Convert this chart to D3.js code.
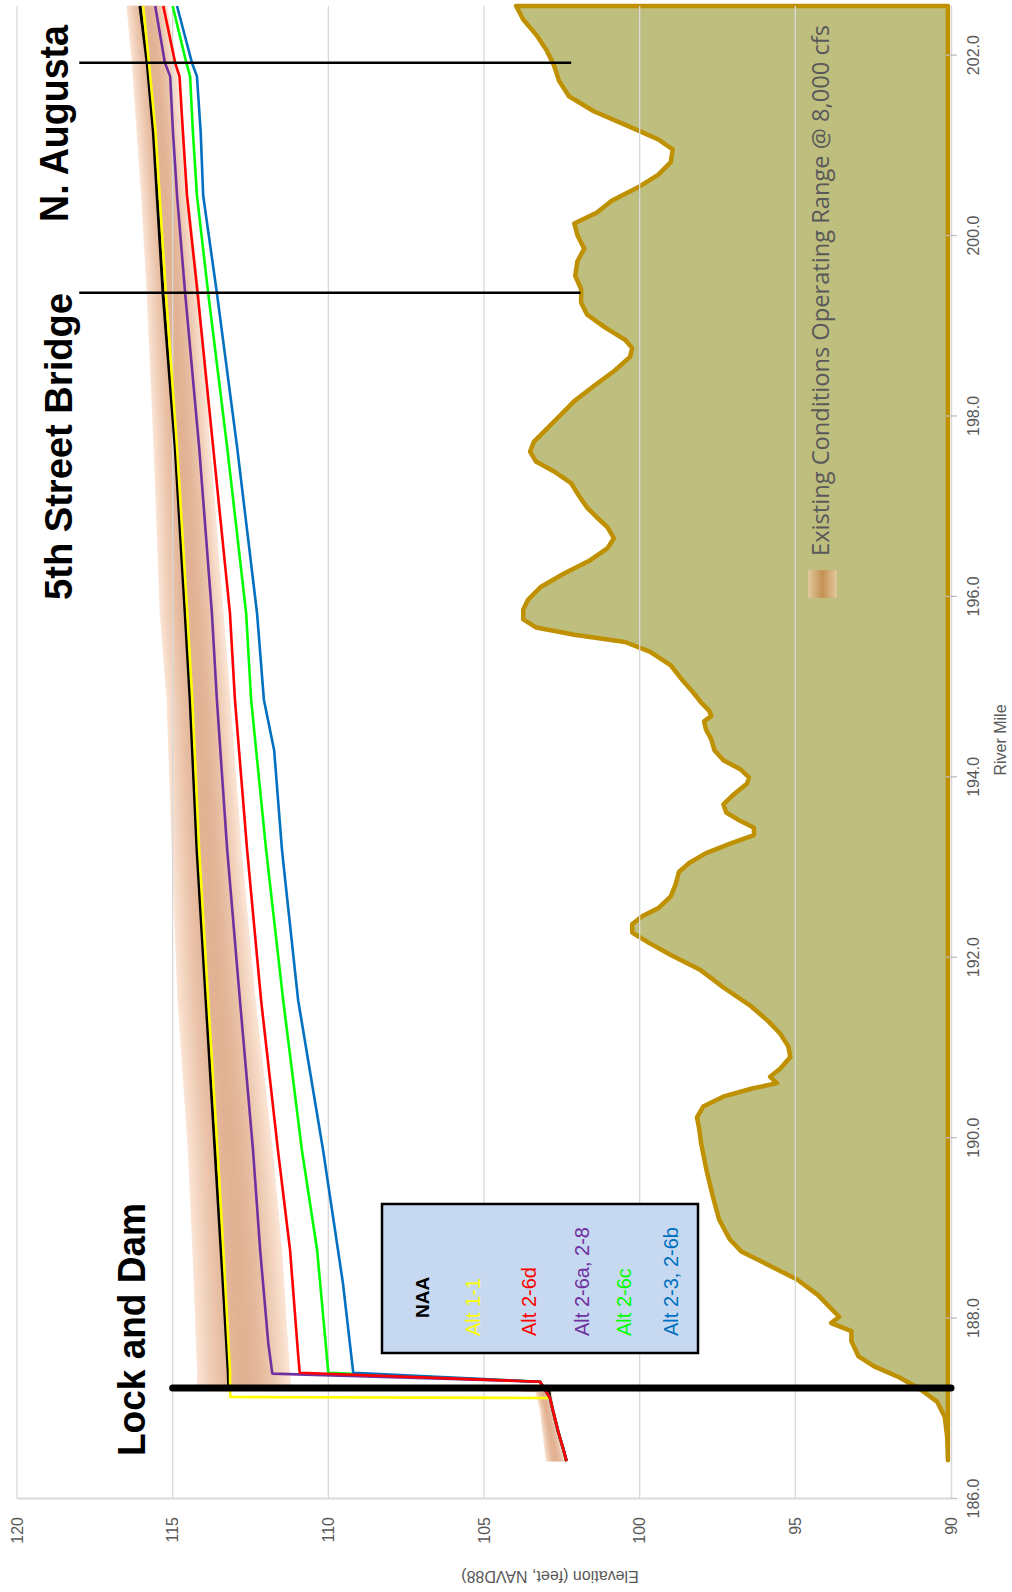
<!DOCTYPE html>
<html>
<head>
<meta charset="utf-8">
<script src="https://cdn.jsdelivr.net/npm/d3@7"></script>
<style>
    body { margin: 0; background: #fff; }
    svg { display: block; }
    text { font-family: "Liberation Sans", Arial, sans-serif; }
</style>
</head>
<body>
<div id="chart"></div>
<script>

// ---- data (river mile, elevation ft NAVD88) ----

const mileTicks = [186, 188, 190, 192, 194, 196, 198, 200, 202];
const elevTicks = [90, 95, 100, 105, 110, 115, 120];

// stretch below the dam, shared by every alternative
const belowDam = [[186.42, 102.35], [186.55, 102.45], [186.75, 102.62], [187.0, 102.8], [187.12, 102.88]];

const naaPts = belowDam.concat([[187.22, 102.93], [187.23, 113.2], [187.43, 113.22], [188.5, 113.4], [189.87, 113.64],
    [191.53, 113.93], [193.2, 114.22], [194.86, 114.44], [195.82, 114.6], [197.66, 114.92], [199.37, 115.31],
    [200.45, 115.5], [201.15, 115.62], [201.92, 115.82], [202.55, 116.05]]);

const alt11Pts = belowDam.concat([[187.13, 113.15], [187.43, 113.16], [188.5, 113.33], [189.87, 113.56],
    [191.53, 113.86], [193.2, 114.15], [194.86, 114.37], [195.82, 114.53], [197.66, 114.86], [199.37, 115.22],
    [200.45, 115.42], [201.15, 115.55], [201.92, 115.76], [202.55, 115.95]]);

const alt26dPts = belowDam.concat([[187.3, 103.2], [187.4, 110.92], [187.6, 110.97], [188.76, 111.23], [189.87, 111.62],
    [191.53, 112.16], [193.2, 112.61], [194.86, 113.0], [195.82, 113.16], [197.66, 113.7], [199.37, 114.2],
    [200.45, 114.54], [201.15, 114.67], [201.77, 114.78], [201.92, 114.92], [202.55, 115.3]]);

const alt26aPts = belowDam.concat([[187.3, 103.2], [187.39, 111.8], [187.73, 111.93], [188.76, 112.19], [189.87, 112.42],
    [191.53, 112.84], [193.2, 113.25], [194.86, 113.58], [195.82, 113.74], [197.66, 114.15], [199.37, 114.6],
    [200.45, 114.86], [201.15, 114.99], [201.77, 115.08], [201.92, 115.25], [202.55, 115.56]]);

const alt26cPts = belowDam.concat([[187.3, 103.2], [187.4, 110.0], [188.76, 110.36], [189.87, 110.85],
    [191.53, 111.45], [193.2, 112.0], [194.86, 112.48], [195.82, 112.64], [197.66, 113.25], [199.37, 113.86],
    [200.45, 114.22], [201.15, 114.35], [201.77, 114.44], [201.92, 114.56], [202.55, 115.0]]);

const alt23Pts = belowDam.concat([[187.3, 103.2], [187.4, 109.2], [188.39, 109.53], [188.76, 109.69], [189.87, 110.17],
    [191.53, 110.97], [192.97, 111.42], [193.2, 111.49], [194.3, 111.74], [194.86, 112.07], [195.82, 112.29],
    [197.66, 112.93], [199.37, 113.58], [200.45, 114.02], [201.15, 114.1], [201.77, 114.22], [201.92, 114.38],
    [202.55, 114.86]]);

const seriesNames = ["NAA", "Alt 1-1", "Alt 2-6d", "Alt 2-6a, 2-8", "Alt 2-6c", "Alt 2-3, 2-6b"];
const seriesColors = ["#000000", "#ffff00", "#ff0000", "#7030a0", "#00ff00", "#0070c0"];
const seriesPts = [naaPts, alt11Pts, alt26dPts, alt26aPts, alt26cPts, alt23Pts];

// existing conditions operating range @ 8,000 cfs
const rangeMiles = [186.42, 187.0, 187.2, 187.24, 187.4, 188.76, 189.87, 191.53, 193.2, 194.86, 195.82, 197.66, 199.37, 200.45, 201.92, 202.55];
const rangeHigh  = [103.0, 103.2, 103.35, 114.2, 114.2, 114.35, 114.5, 114.83, 115.02, 115.18, 115.4, 115.6, 115.82, 116.0, 116.3, 116.47];
const rangeLow   = [102.35, 102.75, 102.85, 111.2, 111.25, 111.5, 111.8, 112.35, 112.8, 113.16, 113.38, 113.8, 114.15, 114.5, 114.9, 115.18];

// river bed profile
const groundBase = 90.1;
const ground = [[186.43, 90.1], [186.68, 90.12], [186.91, 90.2], [187.08, 90.45], [187.22, 91.0], [187.35, 91.67],
    [187.47, 92.47], [187.58, 92.97], [187.75, 93.2], [187.86, 93.2], [187.95, 93.85], [188.02, 93.59], [188.11, 93.85],
    [188.26, 94.27], [188.43, 94.93], [188.6, 95.9], [188.74, 96.72], [188.88, 97.11], [189.1, 97.45], [189.38, 97.67],
    [189.67, 97.87], [189.95, 98.03], [190.11, 98.09], [190.23, 98.16], [190.35, 97.96], [190.46, 97.32], [190.55, 96.39],
    [190.61, 95.59], [190.68, 95.81], [190.77, 95.49], [190.9, 95.16], [191.02, 95.23], [191.16, 95.49], [191.3, 95.88],
    [191.47, 96.45], [191.67, 97.31], [191.86, 98.03], [192.03, 99.0], [192.17, 99.73], [192.28, 100.24], [192.37, 100.24],
    [192.46, 99.92], [192.55, 99.4], [192.68, 99.0], [192.82, 98.84], [192.95, 98.74], [193.05, 98.41], [193.16, 97.87],
    [193.27, 97.05], [193.36, 96.33], [193.44, 96.33], [193.52, 96.79], [193.61, 97.22], [193.7, 97.31], [193.81, 96.98],
    [193.93, 96.55], [194.0, 96.49], [194.09, 96.77], [194.19, 97.31], [194.3, 97.6], [194.42, 97.7], [194.53, 97.87],
    [194.62, 97.93], [194.68, 97.7], [194.74, 97.77], [194.83, 98.03], [194.94, 98.28], [195.07, 98.61], [195.24, 99.0],
    [195.39, 99.66], [195.5, 100.47], [195.58, 102.1], [195.66, 103.32], [195.75, 103.74], [195.86, 103.74], [195.97, 103.58],
    [196.11, 103.18], [196.26, 102.43], [196.4, 101.62], [196.54, 101.03], [196.65, 100.83], [196.77, 101.03], [196.88, 101.37],
    [196.99, 101.69], [197.12, 101.95], [197.26, 102.2], [197.39, 102.75], [197.5, 103.33], [197.61, 103.52], [197.72, 103.4],
    [197.83, 103.08], [198.0, 102.59], [198.17, 102.1], [198.34, 101.46], [198.51, 100.8], [198.66, 100.31], [198.76, 100.24],
    [198.85, 100.47], [198.99, 101.13], [199.13, 101.69], [199.26, 101.88], [199.41, 101.88], [199.56, 102.07], [199.72, 102.0],
    [199.86, 101.78], [200.01, 102.0], [200.14, 102.1], [200.26, 101.37], [200.39, 100.9], [200.54, 100.05], [200.68, 99.4],
    [200.82, 99.0], [200.96, 98.94], [201.07, 99.4], [201.21, 100.31], [201.38, 101.46], [201.55, 102.27], [201.72, 102.59],
    [201.89, 102.75], [202.06, 102.99], [202.23, 103.32], [202.4, 103.74], [202.55, 103.97]];

// landmarks drawn as markers across the river
const siteNames = ["Lock and Dam", "5th Street Bridge", "N. Augusta"];
const siteMiles = [187.23, 199.37, 201.92];
const siteTop = [115, 118, 118];
const siteBottom = [90, 101.9, 102.2];


// ---- drawing ----

const W = 1012, H = 1592;

const svg = d3.select("#chart").append("svg")
    .attr("width", W)
    .attr("height", H);

// chart is built landscape (river mile across), then turned a quarter turn
const g = svg.append("g")
    .attr("transform", `translate(0,${H}) rotate(-90)`);

const x = d3.scaleLinear().domain([186, 202.55]).range([93, 1586]);
const y = d3.scaleLinear().domain([90, 120]).range([951, 17]);

const axisGrey = "#595959";

// river bed
g.append("path")
    .datum(ground)
    .attr("d", d3.area().x(d => x(d[0])).y0(y(groundBase)).y1(d => y(d[1])))
    .attr("fill", "#bebe7f")
    .attr("stroke", "#bf9000")
    .attr("stroke-width", 4.5)
    .attr("stroke-linejoin", "round");

// operating range band, shaded darker toward its middle
const band = rangeMiles.map((m, i) => ({m: m, hi: rangeHigh[i], lo: rangeLow[i]}));
const edgeCol = d3.rgb(248, 207, 178), coreCol = d3.rgb(202, 115, 58);
const nStrips = 32;
const bandG = g.append("g").attr("opacity", 0.55);
d3.range(nStrips).forEach(i => {
    let t0 = i / nStrips, t1 = (i + 1) / nStrips;
    let c = d3.interpolateRgb(edgeCol, coreCol)(Math.sin(Math.PI * (i + 0.5) / nStrips));
    bandG.append("path")
        .datum(band)
        .attr("d", d3.area()
            .x(d => x(d.m))
            .y0(d => y(d.hi + (d.lo - d.hi) * t0))
            .y1(d => y(d.hi + (d.lo - d.hi) * t1)))
        .attr("fill", c)
        .attr("stroke", c)
        .attr("stroke-width", 0.8);
});

// gridlines
g.append("g").selectAll("line")
    .data(elevTicks.filter(d => d > 90))
    .enter().append("line")
    .attr("x1", x(186)).attr("x2", x(202.55))
    .attr("y1", d => y(d)).attr("y2", d => y(d))
    .attr("stroke", "#d9d9d9")
    .attr("stroke-width", 1.3);

// river mile axis
let xAxis = g.append("g")
    .attr("transform", `translate(0,${y(90)})`)
    .call(d3.axisBottom(x).tickValues(mileTicks).tickFormat(d3.format(".1f")).tickSizeOuter(0));
xAxis.select(".domain").attr("stroke", "#d9d9d9").attr("stroke-width", 1.5);
xAxis.selectAll(".tick line").attr("y1", -5).attr("y2", 6).attr("stroke", "#bfbfbf").attr("stroke-width", 1.3);
xAxis.selectAll(".tick text")
    .attr("y", 22).attr("dy", "0.35em")
    .attr("fill", axisGrey)
    .style("font-size", "16px")
    .style("font-family", "Liberation Sans, Arial, sans-serif");

// elevation axis
let yAxis = g.append("g")
    .attr("transform", `translate(${x(186)},0)`)
    .call(d3.axisLeft(y).tickValues(elevTicks).tickFormat(d3.format("d")).tickSize(0).tickSizeOuter(0).tickPadding(18));
yAxis.select(".domain").attr("stroke", "#d9d9d9").attr("stroke-width", 2);
yAxis.selectAll(".tick text")
    .attr("fill", axisGrey)
    .style("font-size", "16px")
    .style("font-family", "Liberation Sans, Arial, sans-serif");

g.append("text")
    .attr("x", 852).attr("y", 1000)
    .attr("text-anchor", "middle")
    .attr("dominant-baseline", "central")
    .attr("fill", axisGrey)
    .style("font-size", "16px")
    .text("River Mile");

g.append("text")
    .attr("transform", "translate(16,550) rotate(-90)")
    .attr("text-anchor", "middle")
    .attr("dominant-baseline", "central")
    .attr("fill", axisGrey)
    .style("font-size", "16px")
    .text("Elevation (feet, NAVD88)");

// water surface profiles
const line = d3.line().x(d => x(d[0])).y(d => y(d[1]));
[0, 1, 4, 5, 3, 2].forEach(i => {
    g.append("path")
        .datum(seriesPts[i])
        .attr("d", line)
        .attr("fill", "none")
        .attr("stroke", seriesColors[i])
        .attr("stroke-width", i === 0 ? 3 : 2.6)
        .attr("stroke-linejoin", "round");
});

// landmark markers
g.append("g").selectAll("line")
    .data(siteMiles)
    .enter().append("line")
    .attr("x1", d => x(d)).attr("x2", d => x(d))
    .attr("y1", (d, i) => y(siteTop[i]))
    .attr("y2", (d, i) => y(siteBottom[i]))
    .attr("stroke", "#000")
    .attr("stroke-width", (d, i) => i === 0 ? 7 : 2.5)
    .attr("stroke-linecap", (d, i) => i === 0 ? "round" : "butt");

// landmark labels: start, baseline, length
const siteLabelPos = [[136, 145, 253, 39], [992, 72, 307, 39], [1370, 68, 197, 40]];
siteNames.forEach((name, i) => {
    let p = siteLabelPos[i];
    g.append("text")
        .attr("x", p[0]).attr("y", p[1])
        .attr("textLength", p[2])
        .attr("lengthAdjust", "spacingAndGlyphs")
        .style("font-size", p[3] + "px")
        .style("font-weight", "bold")
        .attr("fill", "#000")
        .text(name);
});

// series legend
g.append("rect")
    .attr("x", 239).attr("y", 382)
    .attr("width", 149).attr("height", 316)
    .attr("fill", "#c6d9f0")
    .attr("stroke", "#000")
    .attr("stroke-width", 2.5);

const legendRows = [422, 473, 529, 582, 624, 671];
seriesNames.forEach((name, i) => {
    g.append("text")
        .attr("x", i === 0 ? 274 : 256)
        .attr("y", legendRows[i])
        .attr("dominant-baseline", "central")
        .attr("fill", seriesColors[i])
        .style("font-size", i === 0 ? "19px" : "20px")
        .style("font-weight", i === 0 ? "bold" : "normal")
        .text(name);
});

// operating range legend
const grad = svg.append("defs").append("linearGradient")
    .attr("id", "rangeGrad")
    .attr("x1", 0).attr("y1", 0).attr("x2", 0).attr("y2", 1);
grad.append("stop").attr("offset", "0%").attr("stop-color", edgeCol);
grad.append("stop").attr("offset", "50%").attr("stop-color", coreCol);
grad.append("stop").attr("offset", "100%").attr("stop-color", edgeCol);

g.append("rect")
    .attr("x", 994).attr("y", 808)
    .attr("width", 28).attr("height", 29)
    .attr("fill", "url(#rangeGrad)")
    .attr("opacity", 0.6);

g.append("text")
    .attr("x", 1036).attr("y", 829)
    .attr("textLength", 531)
    .attr("lengthAdjust", "spacingAndGlyphs")
    .attr("fill", axisGrey)
    .style("font-family", "'Open Sans', 'Liberation Sans', sans-serif")
    .style("font-size", "24px")
    .text("Existing Conditions Operating Range @ 8,000 cfs");

</script>
</body>
</html>
